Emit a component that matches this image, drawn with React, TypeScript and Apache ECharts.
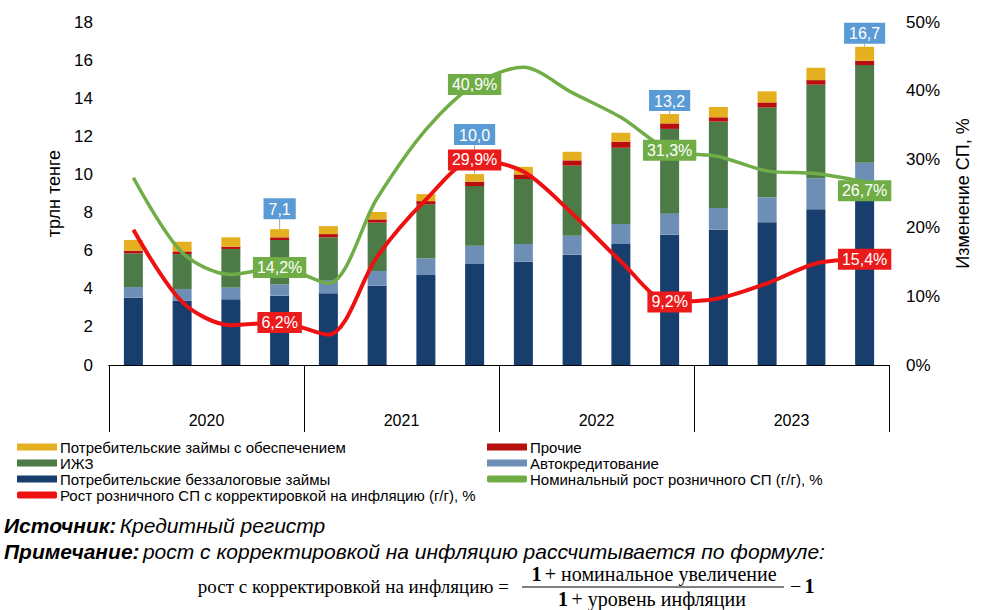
import { useEffect, useRef } from "react";
import * as echarts from "echarts";

const quarters = [
  "I кв. 2020", "II кв. 2020", "III кв. 2020", "IV кв. 2020",
  "I кв. 2021", "II кв. 2021", "III кв. 2021", "IV кв. 2021",
  "I кв. 2022", "II кв. 2022", "III кв. 2022", "IV кв. 2022",
  "I кв. 2023", "II кв. 2023", "III кв. 2023", "IV кв. 2023",
];
const years = ["2020", "2021", "2022", "2023"];

// трлн тенге
const unsecured = [3.53, 3.37, 3.45, 3.64, 3.76, 4.16, 4.72, 5.30, 5.42, 5.79, 6.35, 6.84, 7.10, 7.49, 8.18, 8.78];
const autoLoans = [0.56, 0.62, 0.61, 0.59, 0.70, 0.77, 0.88, 0.96, 0.93, 0.99, 1.05, 1.10, 1.14, 1.31, 1.62, 1.83];
const mortgage = [1.77, 1.83, 2.03, 2.33, 2.24, 2.54, 2.83, 3.13, 3.41, 3.68, 4.00, 4.45, 4.53, 4.72, 4.91, 5.13];
const other = [0.14, 0.14, 0.12, 0.14, 0.17, 0.17, 0.17, 0.23, 0.24, 0.28, 0.32, 0.29, 0.23, 0.26, 0.24, 0.23];
const secured = [0.56, 0.51, 0.49, 0.43, 0.42, 0.39, 0.37, 0.40, 0.40, 0.45, 0.47, 0.49, 0.54, 0.58, 0.65, 0.73];

// %
const nominalGrowth = [27.3, 16.4, 13.2, 14.2, 11.9, 24.3, 34.3, 40.9, 43.4, 39.7, 36.1, 31.3, 30.4, 28.3, 27.9, 26.7];
const realGrowth = [19.7, 9.2, 5.8, 6.2, 4.4, 15.8, 24.1, 29.9, 28.2, 22.1, 15.1, 9.2, 9.7, 11.9, 14.8, 15.4];

const labeledIdx = [3, 7, 11, 15];

const leftTicks = [0, 18, 2];
const rightTicks = [0, 50, 10];

const NAMES = {
  secured: "Потребительские займы с обеспечением",
  other: "Прочие",
  mortgage: "ИЖЗ",
  auto: "Автокредитование",
  unsecured: "Потребительские беззалоговые займы",
  nominal: "Номинальный рост розничного СП (г/г), %",
  real: "Рост розничного СП с корректировкой на инфляцию (г/г), %",
};

const FONT = "'Liberation Sans', Arial, sans-serif";
const SERIF = "'Liberation Serif', 'DejaVu Serif', serif";

const fmt1 = (v: number) => v.toFixed(1).replace(".", ",");

export default function App() {
  const ref = useRef<HTMLDivElement>(null);

  useEffect(() => {
    if (!ref.current) return;
    const chart = echarts.init(ref.current, null, { renderer: "svg" });

    const totals = quarters.map(
      (_, i) => unsecured[i] + autoLoans[i] + mortgage[i] + other[i] + secured[i]
    );
    const totalLabelLift: Record<number, number> = { 3: 10, 7: 29, 11: 3, 15: 3 };
    const lineLabelShift: Record<number, number> = { 15: 9 };

    const barBase = {
      type: "bar",
      stack: "total",
      barWidth: 19,
      xAxisIndex: 0,
      yAxisIndex: 0,
    };

    const lineData = (arr: number[], shifts: Record<number, number>) =>
      arr.map((v, i) =>
        labeledIdx.includes(i)
          ? { value: v, label: { show: true, offset: [0, shifts[i] || 0] } }
          : v
      );

    const lineLabel = (bg: string) => ({
      show: false,
      position: "inside",
      backgroundColor: bg,
      color: "#fff",
      fontSize: 16,
      fontFamily: FONT,
      padding: [3, 4, 2, 4],
      formatter: (p: any) => fmt1(p.value) + "%",
    });

    const legendText = { fontSize: 15, fontFamily: FONT, color: "#000", lineHeight: 16, padding: [0, 0, 0, -2] };

    const option: any = {
      animation: false,
      textStyle: { fontFamily: FONT },
      grid: { left: 109, right: 98, top: 22, bottom: 245, containLabel: false },
      legend: [
        {
          orient: "vertical",
          left: 17,
          top: 439,
          padding: 0,
          itemGap: 0,
          itemWidth: 40,
          itemHeight: 7,
          selectedMode: false,
          textStyle: legendText,
          data: [
            { name: NAMES.secured, icon: "rect" },
            { name: NAMES.mortgage, icon: "rect" },
            { name: NAMES.unsecured, icon: "rect" },
            { name: NAMES.real, icon: "roundRect" },
          ],
        },
        {
          orient: "vertical",
          left: 487,
          top: 439,
          padding: 0,
          itemGap: 0,
          itemWidth: 40,
          itemHeight: 7,
          selectedMode: false,
          textStyle: legendText,
          data: [
            { name: NAMES.other, icon: "rect" },
            { name: NAMES.auto, icon: "rect" },
            { name: NAMES.nominal, icon: "roundRect" },
          ],
        },
      ],
      xAxis: [
        {
          type: "category",
          data: quarters,
          position: "bottom",
          axisLine: { show: true, lineStyle: { color: "#000", width: 1 } },
          axisTick: { show: false },
          axisLabel: { show: false },
          splitLine: { show: false },
        },
        {
          type: "category",
          data: years,
          position: "bottom",
          axisLine: { show: true, lineStyle: { color: "#000", width: 1 } },
          axisTick: { show: true, length: 67, interval: 0, lineStyle: { color: "#000", width: 1 } },
          axisLabel: { show: true, margin: 47, fontSize: 16, color: "#000", fontFamily: FONT },
          splitLine: { show: false },
        },
      ],
      yAxis: [
        {
          type: "value",
          min: leftTicks[0],
          max: leftTicks[1],
          interval: leftTicks[2],
          name: "трлн тенге",
          nameLocation: "middle",
          nameRotate: 90,
          nameGap: 45,
          nameTextStyle: { fontSize: 18, color: "#000", fontFamily: FONT },
          axisLine: { show: false },
          axisTick: { show: false },
          splitLine: { show: false },
          axisLabel: { fontSize: 17, color: "#000", margin: 16, fontFamily: FONT },
        },
        {
          type: "value",
          min: rightTicks[0],
          max: rightTicks[1],
          interval: rightTicks[2],
          name: "Изменение СП, %",
          nameLocation: "middle",
          nameRotate: 90,
          nameGap: 65,
          nameTextStyle: { fontSize: 18, color: "#000", fontFamily: FONT },
          axisLine: { show: false },
          axisTick: { show: false },
          splitLine: { show: false },
          axisLabel: { fontSize: 17, color: "#000", margin: 17, fontFamily: FONT, formatter: (v: number) => v + "%" },
        },
      ],
      series: [
        { ...barBase, name: NAMES.unsecured, data: unsecured, itemStyle: { color: "#173E6C" } },
        { ...barBase, name: NAMES.auto, data: autoLoans, itemStyle: { color: "#6D8FB6" } },
        { ...barBase, name: NAMES.mortgage, data: mortgage, itemStyle: { color: "#4C7B48" } },
        { ...barBase, name: NAMES.other, data: other, itemStyle: { color: "#B80E0E" } },
        {
          ...barBase,
          name: NAMES.secured,
          itemStyle: { color: "#E5B020" },
          data: secured.map((v, i) =>
            labeledIdx.includes(i) ? { value: v, label: { show: true } } : v
          ),
          label: {
            show: false,
            position: "top",
            distance: 0,
            backgroundColor: "#5B9BD5",
            color: "#fff",
            fontSize: 16,
            fontFamily: FONT,
            padding: [3, 5, 2, 5],
            formatter: (p: any) => fmt1(totals[p.dataIndex]),
          },
          labelLayout: (p: any) => {
            const lift = totalLabelLift[p.dataIndex];
            return lift ? { dy: -lift } : {};
          },
          labelLine: { show: true, lineStyle: { color: "#A6A6A6", width: 1 } },
          z: 3,
        },
        {
          type: "line",
          name: NAMES.nominal,
          yAxisIndex: 1,
          xAxisIndex: 0,
          smooth: 0.3,
          symbol: "circle",
          symbolSize: 0,
          showSymbol: true,
          itemStyle: { color: "#70AD47" },
          lineStyle: { color: "#70AD47", width: 3.5 },
          data: lineData(nominalGrowth, lineLabelShift),
          label: lineLabel("#70AD47"),
          z: 4,
        },
        {
          type: "line",
          name: NAMES.real,
          yAxisIndex: 1,
          xAxisIndex: 0,
          smooth: 0.3,
          symbol: "circle",
          symbolSize: 0,
          showSymbol: true,
          itemStyle: { color: "#EE1111" },
          lineStyle: { color: "#EE1111", width: 4 },
          data: lineData(realGrowth, {}),
          label: lineLabel("#EA1B1B"),
          z: 5,
        },
      ],
      graphic: [
        {
          type: "text",
          x: 4,
          y: 525,
          style: {
            text: "{b|Источник:} {i|Кредитный регистр}",
            textVerticalAlign: "middle",
            rich: {
              b: { fontSize: 21, fontFamily: FONT, fontStyle: "italic", fontWeight: "bold", fill: "#000" },
              i: { fontSize: 21, fontFamily: FONT, fontStyle: "italic", fill: "#000" },
            },
          },
        },
        {
          type: "text",
          x: 4,
          y: 551,
          style: {
            text: "{b|Примечание:} {i|рост с корректировкой на инфляцию рассчитывается по формуле:}",
            textVerticalAlign: "middle",
            rich: {
              b: { fontSize: 21, fontFamily: FONT, fontStyle: "italic", fontWeight: "bold", fill: "#000" },
              i: { fontSize: 21, fontFamily: FONT, fontStyle: "italic", fill: "#000" },
            },
          },
        },
        {
          type: "text",
          x: 509,
          y: 586,
          style: {
            text: "рост с корректировкой на инфляцию =",
            textAlign: "right",
            textVerticalAlign: "middle",
            fontSize: 19,
            fontFamily: SERIF,
            fill: "#000",
          },
        },
        {
          type: "text",
          x: 654,
          y: 574,
          style: {
            text: "{b|1} {n|+ номинальное увеличение}",
            textAlign: "center",
            textVerticalAlign: "middle",
            rich: {
              b: { fontSize: 20, fontFamily: SERIF, fontWeight: "bold", fill: "#000" },
              n: { fontSize: 20, fontFamily: SERIF, fill: "#000" },
            },
          },
        },
        {
          type: "line",
          shape: { x1: 522, y1: 587, x2: 784, y2: 587 },
          style: { stroke: "#000", lineWidth: 1 },
        },
        {
          type: "text",
          x: 652,
          y: 599,
          style: {
            text: "{b|1} {n|+ уровень инфляции}",
            textAlign: "center",
            textVerticalAlign: "middle",
            rich: {
              b: { fontSize: 20, fontFamily: SERIF, fontWeight: "bold", fill: "#000" },
              n: { fontSize: 20, fontFamily: SERIF, fill: "#000" },
            },
          },
        },
        {
          type: "text",
          x: 790,
          y: 586,
          style: {
            text: "{n|−} {b|1}",
            textVerticalAlign: "middle",
            rich: {
              b: { fontSize: 20, fontFamily: SERIF, fontWeight: "bold", fill: "#000" },
              n: { fontSize: 20, fontFamily: SERIF, fill: "#000" },
            },
          },
        },
      ],
    };

    chart.setOption(option);
    return () => chart.dispose();
  }, []);

  return (
    <div
      ref={ref}
      style={{ position: "fixed", left: 0, top: 0, width: 987, height: 610, background: "#fff" }}
    />
  );
}
